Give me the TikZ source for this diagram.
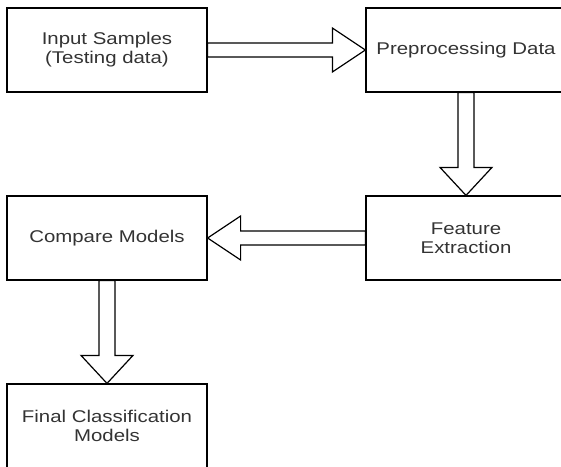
\documentclass[tikz,border=0pt]{standalone}
\usepackage{fontspec}
\setmainfont[FakeStretch=1.2]{Liberation Sans}
\usetikzlibrary{calc}

\tikzset{
  block/.style={draw, line width=1.2pt, minimum width=200pt, minimum height=84pt,
    align=center, font=\fontsize{17}{19}\selectfont, text=black!80},
  fatarrow/.style={draw, line width=1.2pt, fill=white, line join=miter}
}

\begin{document}
\begin{tikzpicture}[x=1pt, y=-1pt]
  % keep the frame of the picture
  \useasboundingbox (0,0) rectangle (561,466);

  % the boxes
  \node[block] (input) at (107,50) {Input Samples\\(Testing data)};
  \node[block] (preproc) at (466,50) {Preprocessing Data};
  \node[block] (feature) at (466,238) {Feature\\Extraction};
  \node[block] (compare) at (107,238) {Compare Models};
  \node[block] (final) at (107,426) {Final Classification\\Models};

  % hollow arrows between the boxes
  \draw[fatarrow] ($(input.east)+(0,-7)$) -- ($(preproc.west)+(-33,-7)$)
    -- ($(preproc.west)+(-33,-22)$) -- (preproc.west)
    -- ($(preproc.west)+(-33,22)$) -- ($(preproc.west)+(-33,7)$)
    -- ($(input.east)+(0,7)$) -- cycle;
  \draw[fatarrow] ($(preproc.south)+(-8,0)$) -- ($(feature.north)+(-8,-28)$)
    -- ($(feature.north)+(-26,-28)$) -- (feature.north)
    -- ($(feature.north)+(26,-28)$) -- ($(feature.north)+(8,-28)$)
    -- ($(preproc.south)+(8,0)$) -- cycle;
  \draw[fatarrow] ($(feature.west)+(0,-7)$) -- ($(compare.east)+(33,-7)$)
    -- ($(compare.east)+(33,-22)$) -- (compare.east)
    -- ($(compare.east)+(33,22)$) -- ($(compare.east)+(33,7)$)
    -- ($(feature.west)+(0,7)$) -- cycle;
  \draw[fatarrow] ($(compare.south)+(-8,0)$) -- ($(final.north)+(-8,-28)$)
    -- ($(final.north)+(-26,-28)$) -- (final.north)
    -- ($(final.north)+(26,-28)$) -- ($(final.north)+(8,-28)$)
    -- ($(compare.south)+(8,0)$) -- cycle;
\end{tikzpicture}
\end{document}
